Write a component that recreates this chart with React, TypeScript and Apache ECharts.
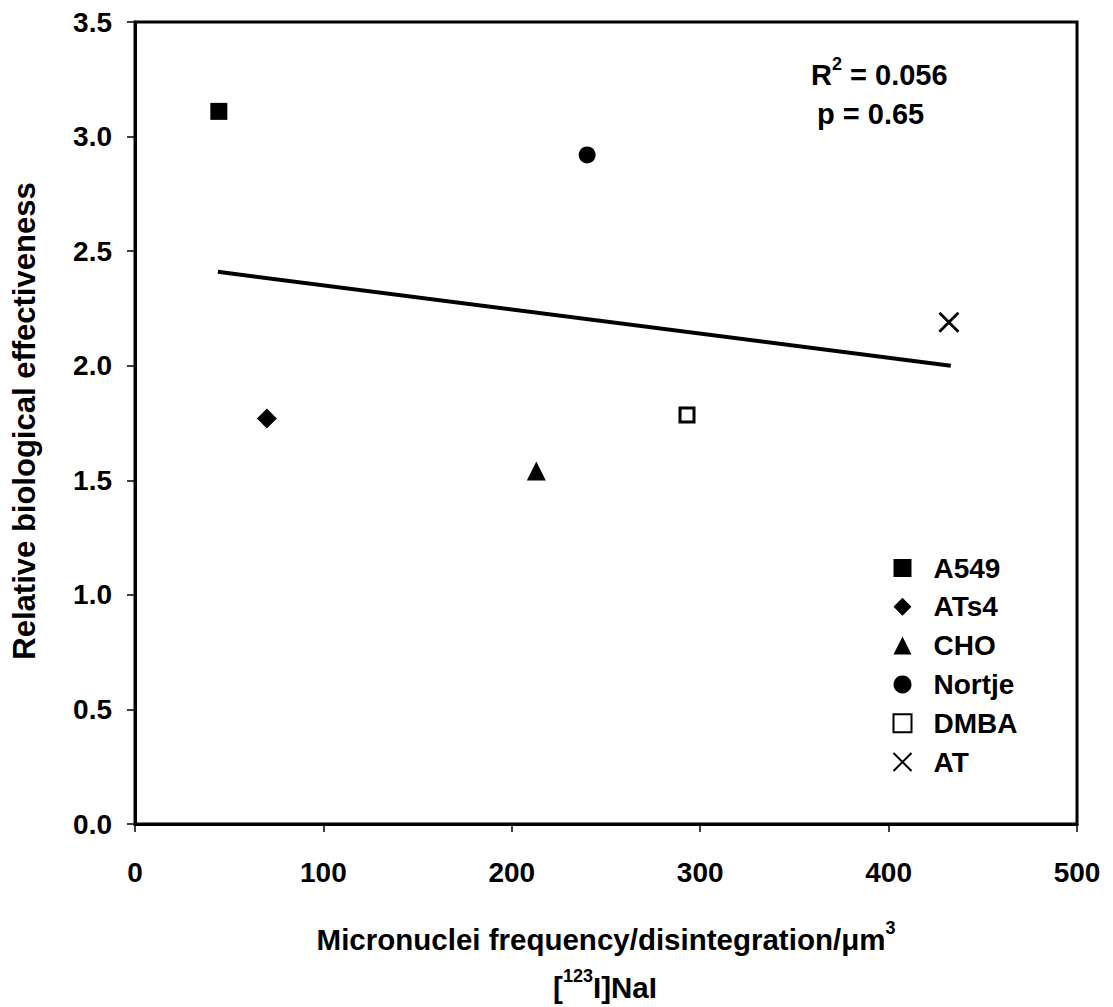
import React, { useEffect, useRef } from "react";
import * as echarts from "echarts";

const seriesNames = ["A549", "ATs4", "CHO", "Nortje", "DMBA", "AT"];
const xValues = [44.5, 70, 213, 240, 293, 432];
const yValues = [3.11, 1.77, 1.54, 2.92, 1.785, 2.19];
const trendX = [44, 433];
const trendY = [2.41, 2.0];
const xTicks = [0, 100, 200, 300, 400, 500];
const yTicks = [0, 0.5, 1.0, 1.5, 2.0, 2.5, 3.0, 3.5];

const FONT = "'Liberation Sans', Arial, sans-serif";

export default function App() {
  const ref = useRef<HTMLDivElement>(null);
  useEffect(() => {
    if (!ref.current) return;
    const chart = echarts.init(ref.current, null, { renderer: "svg" });
    const symbols: any[] = [
      { symbol: "rect", size: 17, itemStyle: { color: "#000", opacity: 1 } },
      { symbol: "diamond", size: 20, itemStyle: { color: "#000", opacity: 1 } },
      { symbol: "triangle", size: 19, itemStyle: { color: "#000", opacity: 1 } },
      { symbol: "circle", size: 17, itemStyle: { color: "#000", opacity: 1 } },
      { symbol: "rect", size: 14, itemStyle: { color: "#fff", borderColor: "#000", borderWidth: 3, opacity: 1 } },
      {
        symbol: "path://M0,0L20,20M20,0L0,20",
        size: 19,
        itemStyle: { color: "none", borderColor: "#000", borderWidth: 2.8, opacity: 1 },
      },
    ];
    const scatterSeries = seriesNames.map((name, i) => ({
      name,
      type: "scatter",
      symbol: symbols[i].symbol,
      symbolSize: symbols[i].size,
      itemStyle: symbols[i].itemStyle,
      data: [[xValues[i], yValues[i]]],
      z: 5,
    }));
    const rich = (size: number) => ({
      a: { fontSize: size, fontWeight: "bold", fontFamily: FONT, fill: "#000", lineHeight: size + 6, verticalAlign: "bottom" },
      s: { fontSize: Math.round(size * 0.62), fontWeight: "bold", fontFamily: FONT, fill: "#000", lineHeight: size + 6, verticalAlign: "top" },
    });
    chart.setOption({
      animation: false,
      backgroundColor: "#fff",
      grid: {
        left: 135,
        right: 36,
        top: 22,
        bottom: 183,
        show: true,
        borderColor: "#000",
        borderWidth: 3,
        backgroundColor: "transparent",
      },
      xAxis: {
        type: "value",
        min: xTicks[0],
        max: xTicks[xTicks.length - 1],
        interval: 100,
        axisLine: { show: true, lineStyle: { color: "#000", width: 3 } },
        axisTick: { show: true, inside: false, length: 8, lineStyle: { color: "#000", width: 1.5 } },
        splitLine: { show: false },
        axisLabel: { color: "#000", fontSize: 28, fontWeight: "bold", fontFamily: FONT, margin: 34 },
      },
      yAxis: {
        type: "value",
        min: yTicks[0],
        max: yTicks[yTicks.length - 1],
        interval: 0.5,
        axisLine: { show: true, lineStyle: { color: "#000", width: 3 } },
        axisTick: { show: true, inside: false, length: 8, lineStyle: { color: "#000", width: 1.5 } },
        splitLine: { show: false },
        axisLabel: {
          color: "#000",
          fontSize: 28,
          fontWeight: "bold",
          fontFamily: FONT,
          margin: 23,
          formatter: (v: number) => v.toFixed(1),
        },
      },
      legend: {
        data: seriesNames,
        orient: "vertical",
        left: 891,
        top: 554,
        padding: 0,
        itemWidth: 18,
        itemHeight: 18,
        itemGap: 10.8,
        textStyle: {
          color: "#000",
          fontSize: 28,
          fontWeight: "bold",
          fontFamily: FONT,
          padding: [0, 0, 0, 17],
        },
      },
      series: [
        ...scatterSeries,
        {
          name: "trend",
          type: "line",
          data: trendX.map((x, i) => [x, trendY[i]]),
          symbol: "none",
          lineStyle: { color: "#000", width: 4 },
          z: 3,
        },
      ],
      graphic: [
        {
          type: "text",
          x: 811,
          y: 72,
          style: {
            text: "{a|R}{s|2}{a| = 0.056}",
            verticalAlign: "middle",
            rich: rich(29),
          },
        },
        {
          type: "text",
          x: 817,
          y: 114,
          style: {
            text: "p = 0.65",
            fontSize: 29,
            fontWeight: "bold",
            fontFamily: FONT,
            fill: "#000",
            verticalAlign: "middle",
          },
        },
        {
          type: "text",
          rotation: Math.PI / 2,
          x: 24,
          y: 421,
          style: {
            text: "Relative biological effectiveness",
            fontSize: 31,
            fontWeight: "bold",
            fontFamily: FONT,
            fill: "#000",
            align: "center",
            verticalAlign: "middle",
          },
        },
        {
          type: "text",
          x: 606,
          y: 937,
          style: {
            text: "{a|Micronuclei frequency/disintegration/μm}{s|3}",
            align: "center",
            verticalAlign: "middle",
            rich: rich(29.5),
          },
        },
        {
          type: "text",
          x: 605,
          y: 985,
          style: {
            text: "{a|[}{s|123}{a|I]NaI}",
            align: "center",
            verticalAlign: "middle",
            rich: rich(29.5),
          },
        },
      ],
    });
    return () => chart.dispose();
  }, []);
  return (
    <div
      ref={ref}
      style={{ position: "fixed", left: 0, top: 0, width: 1113, height: 1007, background: "#fff" }}
    />
  );
}
